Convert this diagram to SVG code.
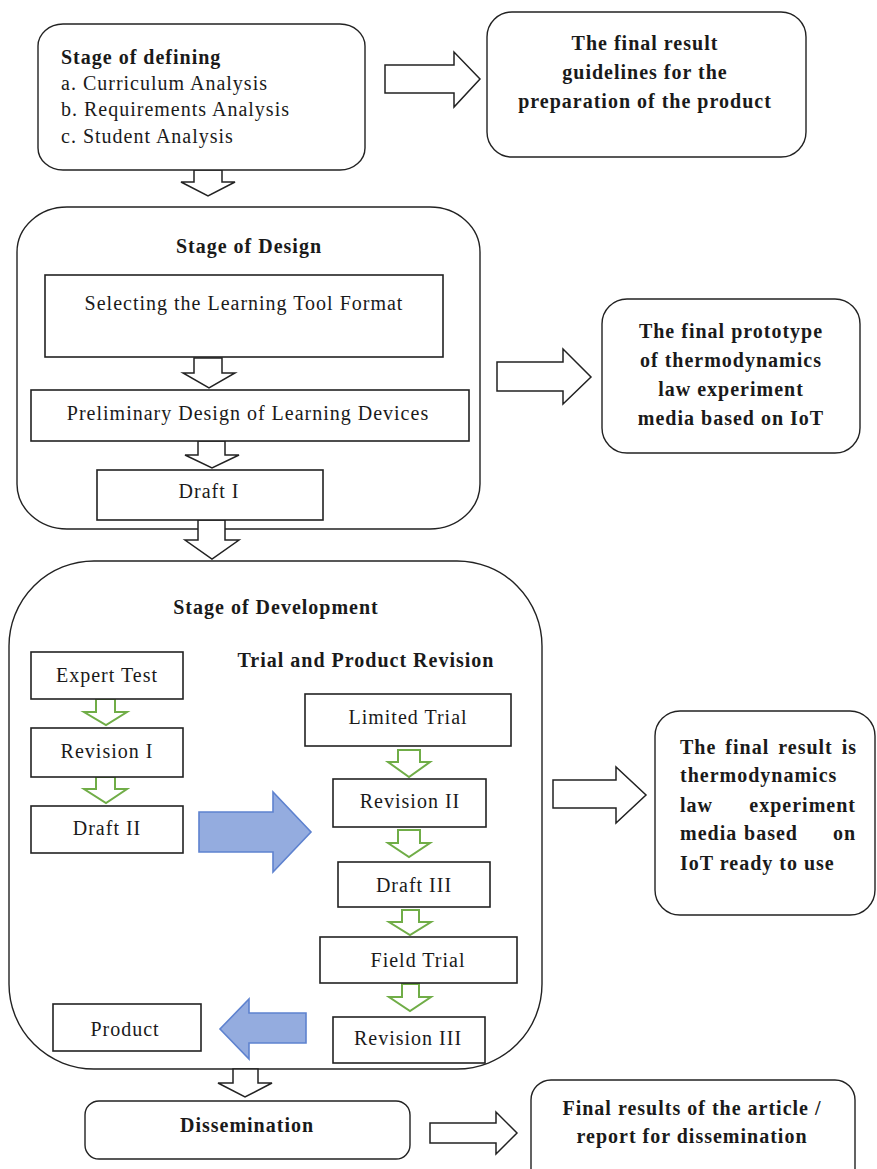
<svg xmlns="http://www.w3.org/2000/svg" width="877" height="1169" viewBox="0 0 877 1169">
<style>
.bx{fill:#fff;stroke:#222;stroke-width:1.6}
.rb{fill:#fff;stroke:#222;stroke-width:1.4}
.ha{fill:#fff;stroke:#222;stroke-width:1.5;stroke-linejoin:miter}
.ga{fill:#fff;stroke:#70AD47;stroke-width:2}
.ba{fill:#94ACDF;stroke:#5E82CF;stroke-width:1.6}
text{font-family:"Liberation Serif","Times New Roman",serif;font-size:20px;fill:#1a1a1a;letter-spacing:1px}
.b{font-weight:bold}
.c{text-anchor:middle}
.e{text-anchor:end}
</style>
<rect width="877" height="1169" fill="#fff"/>

<g id="containers">
<rect id="design" class="rb" x="17" y="207" width="463" height="322" rx="50" ry="45"/>
<rect id="development" class="rb" x="9" y="561" width="533" height="508" rx="85" ry="85"/>
</g>

<g id="connectors">
<polygon class="ha" points="385,65 454,65 454,52 480,79 454,107 454,93 385,93"/>
<polygon class="ha" points="194,170 222,170 222,182 235,182 208,196 181,182 194,182"/>
<polygon class="ha" points="194,358 222,358 222,373 235,373 209,388 183,373 194,373"/>
<polygon class="ha" points="198,441 225,441 225,455 239,455 212,468 185,455 198,455"/>
<polygon class="ha" points="198,520 225,520 225,540 239,540 212,559 185,540 198,540"/>
<polygon class="ha" points="497,362 563,362 563,349 591,377 563,404 563,391 497,391"/>
<polygon class="ha" points="553,780 616,780 616,767 646,795 616,823 616,808 553,808"/>
<polygon class="ha" points="233,1069 258,1069 258,1083 272,1083 245,1097 218,1083 233,1083"/>
<polygon class="ha" points="430,1123 496,1123 496,1112 517,1133 496,1154 496,1143 430,1143"/>
<polygon class="ga" points="96,699 115,699 115,712 127,712 106,725 84,712 96,712"/>
<polygon class="ga" points="96,777 115,777 115,789 127,789 106,803 84,789 96,789"/>
<polygon class="ga" points="398,750 420,750 420,762 430,762 409,777 388,762 398,762"/>
<polygon class="ga" points="398,830 420,830 420,843 430,843 409,857 388,843 398,843"/>
<polygon class="ga" points="402,910 419,910 419,922 431,922 410,935 389,922 402,922"/>
<polygon class="ga" points="402,984 419,984 419,997 431,997 410,1011 389,997 402,997"/>
<polygon class="ba" points="199,812 273,812 273,792 311,832 273,872 273,852 199,852"/>
<polygon class="ba" points="306,1013 249,1013 249,999 220,1029 249,1059 249,1043 306,1043"/>
</g>

<g id="defining">
<rect class="rb" x="38" y="24" width="327" height="146" rx="25" ry="22"/>
<text class="b" x="61" y="64">Stage of defining</text>
<text x="61" y="90">a. Curriculum Analysis</text>
<text x="61" y="116">b. Requirements Analysis</text>
<text x="61" y="143">c. Student Analysis</text>
</g>

<g id="result-guidelines">
<rect class="rb" x="487" y="12" width="319" height="145" rx="25"/>
<text class="b c" x="645" y="50">The final result</text>
<text class="b c" x="645" y="79">guidelines for the</text>
<text class="b c" x="645" y="108">preparation of the product</text>
</g>

<g id="design-title"><text class="b c" x="249" y="253">Stage of Design</text></g>

<g id="selecting">
<rect class="bx" x="45" y="275" width="398" height="82"/>
<text class="c" x="244" y="310">Selecting the Learning Tool Format</text>
</g>

<g id="preliminary">
<rect class="bx" x="31" y="390" width="438" height="51"/>
<text class="c" x="248" y="420">Preliminary Design of Learning Devices</text>
</g>

<g id="draft1">
<rect class="bx" x="97" y="470" width="226" height="50"/>
<text class="c" x="209" y="498">Draft I</text>
</g>

<g id="result-prototype">
<rect class="rb" x="602" y="299" width="258" height="154" rx="25"/>
<text class="b c" x="731" y="338">The final prototype</text>
<text class="b c" x="731" y="367">of thermodynamics</text>
<text class="b c" x="731" y="396">law experiment</text>
<text class="b c" x="731" y="425">media based on IoT</text>
</g>

<g id="development-title">
<text class="b c" x="276" y="614">Stage of Development</text>
<text class="b c" x="366" y="667">Trial and Product Revision</text>
</g>

<g id="expert-test">
<rect class="bx" x="31" y="652" width="152" height="47"/>
<text class="c" x="107" y="682">Expert Test</text>
</g>

<g id="revision1">
<rect class="bx" x="31" y="728" width="152" height="49"/>
<text class="c" x="107" y="758">Revision I</text>
</g>

<g id="draft2">
<rect class="bx" x="31" y="806" width="152" height="47"/>
<text class="c" x="107" y="835">Draft II</text>
</g>

<g id="limited-trial">
<rect class="bx" x="305" y="694" width="206" height="52"/>
<text class="c" x="408" y="724">Limited Trial</text>
</g>

<g id="revision2">
<rect class="bx" x="333" y="779" width="153" height="48"/>
<text class="c" x="410" y="808">Revision II</text>
</g>

<g id="draft3">
<rect class="bx" x="338" y="862" width="152" height="45"/>
<text class="c" x="414" y="892">Draft III</text>
</g>

<g id="field-trial">
<rect class="bx" x="320" y="937" width="197" height="46"/>
<text class="c" x="418" y="967">Field Trial</text>
</g>

<g id="revision3">
<rect class="bx" x="333" y="1017" width="152" height="46"/>
<text class="c" x="408" y="1045">Revision III</text>
</g>

<g id="product">
<rect class="bx" x="53" y="1004" width="148" height="47"/>
<text class="c" x="125" y="1036">Product</text>
</g>

<g id="result-ready">
<rect class="rb" x="655" y="711" width="220" height="204" rx="25"/>
<text class="b" x="680" y="754" word-spacing="3">The final result is</text>
<text class="b" x="680" y="782">thermodynamics</text>
<text class="b" x="680" y="812">law</text>
<text class="b e" x="856" y="812">experiment</text>
<text class="b" x="680" y="840">media</text>
<text class="b c" x="771" y="840">based</text>
<text class="b e" x="856" y="840">on</text>
<text class="b" x="680" y="870">IoT ready to use</text>
</g>

<g id="dissemination">
<rect class="rb" x="85" y="1101" width="325" height="58" rx="14"/>
<text class="b c" x="247" y="1132">Dissemination</text>
</g>

<g id="result-article">
<rect class="rb" x="531" y="1080" width="324" height="110" rx="20"/>
<text class="b c" x="692" y="1115">Final results of the article /</text>
<text class="b c" x="692" y="1143">report for dissemination</text>
</g>
</svg>
